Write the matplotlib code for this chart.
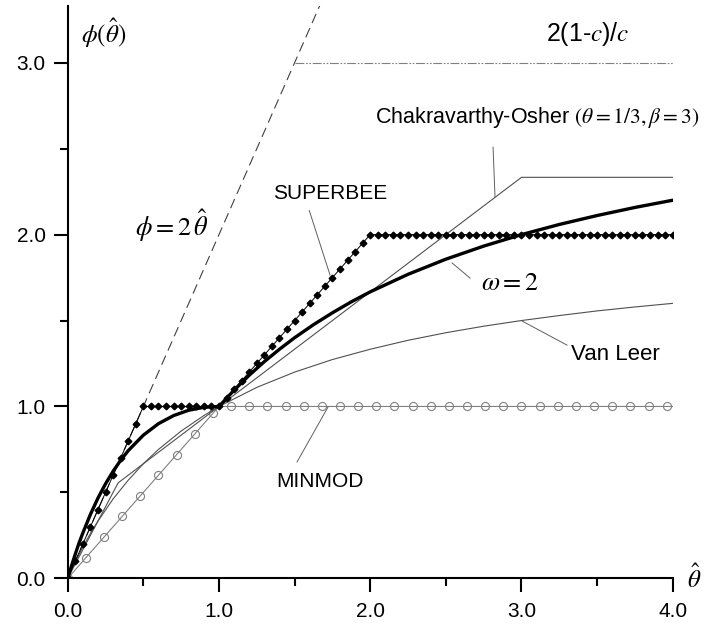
"""
Flux-limiter diagram: phi(theta_hat) for MINMOD, SUPERBEE, Van Leer,
Chakravarthy-Osher and the omega=2 limiter, with the 2*theta bound and
the 2(1-c)/c ceiling.
"""

import numpy as np
import matplotlib.pyplot as plt

plt.rcParams["font.family"] = ["Liberation Sans", "DejaVu Sans"]
plt.rcParams["mathtext.fontset"] = "stix"

# --- data ------------------------------------------------------------------
# upper bound phi = 2*theta (runs off the top of the axes)
bound_x = [0.0, 1.7]
bound_y = [0.0, 3.4]

# 2(1-c)/c ceiling
ceil_x = [1.5, 4.0]
ceil_y = [3.0, 3.0]

# MINMOD: line corners and circle markers every 0.12
minmod_x = [0.0, 1.0, 4.0]
minmod_y = [0.0, 1.0, 1.0]
minmod_mx = np.linspace(0.0, 3.96, 34)
minmod_my = [0.0, 0.12, 0.24, 0.36, 0.48, 0.60, 0.72, 0.84, 0.96,
             1.0, 1.0, 1.0, 1.0, 1.0, 1.0, 1.0, 1.0, 1.0, 1.0, 1.0,
             1.0, 1.0, 1.0, 1.0, 1.0, 1.0, 1.0, 1.0, 1.0, 1.0, 1.0,
             1.0, 1.0, 1.0]

# SUPERBEE: diamonds every 0.05
superbee_x = np.linspace(0.0, 4.0, 81)
superbee_y = [0.0, 0.1, 0.2, 0.3, 0.4, 0.5, 0.6, 0.7, 0.8, 0.9, 1.0,
              1.0, 1.0, 1.0, 1.0, 1.0, 1.0, 1.0, 1.0, 1.0, 1.0,
              1.05, 1.1, 1.15, 1.2, 1.25, 1.3, 1.35, 1.4, 1.45, 1.5,
              1.55, 1.6, 1.65, 1.7, 1.75, 1.8, 1.85, 1.9, 1.95, 2.0,
              2.0, 2.0, 2.0, 2.0, 2.0, 2.0, 2.0, 2.0, 2.0, 2.0,
              2.0, 2.0, 2.0, 2.0, 2.0, 2.0, 2.0, 2.0, 2.0, 2.0,
              2.0, 2.0, 2.0, 2.0, 2.0, 2.0, 2.0, 2.0, 2.0, 2.0,
              2.0, 2.0, 2.0, 2.0, 2.0, 2.0, 2.0, 2.0, 2.0, 2.0]

# Van Leer
vanleer_x = [0.0, 0.05, 0.1, 0.15, 0.2, 0.3, 0.4, 0.5, 0.6, 0.75, 0.9, 1.0,
             1.25, 1.5, 1.75, 2.0, 2.25, 2.5, 2.75, 3.0, 3.25, 3.5, 3.75,
             4.0]
vanleer_y = [0.0, 0.095, 0.182, 0.261, 0.333, 0.462, 0.571, 0.667, 0.75,
             0.857, 0.947, 1.0, 1.111, 1.2, 1.273, 1.333, 1.385, 1.429,
             1.467, 1.5, 1.529, 1.556, 1.579, 1.6]

# Chakravarthy-Osher
co_x = [0.0, 1 / 3, 3.0, 4.0]
co_y = [0.0, 5 / 9, 7 / 3, 7 / 3]

# omega = 2 (thick)
omega_x = [0.0, 0.025, 0.05, 0.075, 0.1, 0.15, 0.2, 0.25, 0.3, 0.35, 0.4,
           0.5, 0.6, 0.7, 0.8, 0.9, 1.0, 1.1, 1.2, 1.3, 1.4, 1.5, 1.625,
           1.75, 1.875, 2.0, 2.25, 2.5, 2.75, 3.0, 3.25, 3.5, 3.75, 4.0]
omega_y = [0.0, 0.072, 0.141, 0.206, 0.264, 0.372, 0.467, 0.55, 0.623,
           0.687, 0.743, 0.833, 0.9, 0.947, 0.978, 0.995, 1.0, 1.095,
           1.182, 1.261, 1.333, 1.4, 1.476, 1.545, 1.609, 1.667, 1.769,
           1.857, 1.933, 2.0, 2.059, 2.111, 2.158, 2.2]

x_ticks = [0.0, 1.0, 2.0, 3.0, 4.0]
y_ticks = [0.0, 1.0, 2.0, 3.0]
x_ticklabels = ["0.0", "1.0", "2.0", "3.0", "4.0"]
y_ticklabels = ["0.0", "1.0", "2.0", "3.0"]

# --- figure ------------------------------------------------------------------
fig = plt.figure(figsize=(7.04, 6.28), dpi=100)
ax = fig.add_axes([0.0962, 0.0791, 0.8594, 0.9113])

ax.plot(bound_x, bound_y, color="#404040", lw=0.8, dashes=(9, 5))
ax.plot(ceil_x, ceil_y, color="#808080", lw=0.8,
        dashes=(8, 1.5, 1.5, 1.5, 1.5, 1.5))

ax.plot(minmod_x, minmod_y, color="#808080", lw=0.8, zorder=2)
ax.plot(minmod_mx, minmod_my, ls="none", marker="o", ms=5.8,
        mfc="none", mec="#808080", mew=0.8, zorder=2)

ax.plot(co_x, co_y, color="#505050", lw=0.8, zorder=3)
ax.plot(vanleer_x, vanleer_y, color="#505050", lw=0.8, zorder=3)

ax.plot(superbee_x, superbee_y, color="black", lw=0.7, marker="D", ms=3.4,
        mfc="black", mec="black", zorder=4)

ax.plot(omega_x, omega_y, color="black", lw=2.4, zorder=5,
        solid_capstyle="round", solid_joinstyle="round")

ax.set_xlim(0, 4)
ax.set_ylim(0, 3.33)
for side in ("top", "right"):
    ax.spines[side].set_visible(False)
for side in ("left", "bottom"):
    ax.spines[side].set_linewidth(1.5)

ax.set_xticks(x_ticks)
ax.set_xticklabels(x_ticklabels)
ax.set_yticks(y_ticks)
ax.set_yticklabels(y_ticklabels)
ax.set_xticks([0.5, 1.5, 2.5, 3.5], minor=True)
ax.set_yticks([0.5, 1.5, 2.5], minor=True)
ax.tick_params(which="major", length=10, width=1.5, labelsize=15)
ax.tick_params(axis="x", which="major", pad=7)
ax.tick_params(axis="y", which="major", pad=6)
ax.tick_params(which="minor", length=6, width=1.5)

# --- labels and leaders --------------------------------------------------------
lead = dict(color="#606060", lw=0.7)

ax.text(0.24, 3.17, r"$\phi(\hat{\theta})$", fontsize=18,
        ha="center", va="center")
ax.text(4.14, 0.0, r"$\hat{\theta}$", fontsize=18, ha="center",
        va="center", clip_on=False)
ax.text(3.44, 3.17, r"2(1-$c$)/$c$", fontsize=18, ha="center", va="center")

ax.text(4.18, 2.68, r"Chakravarthy-Osher $(\theta=1/3,\beta=3)$",
        fontsize=15.5, ha="right", va="center", clip_on=False)
ax.plot([2.812, 2.825], [2.509, 2.219], **lead)

ax.text(1.357, 2.24, "SUPERBEE", fontsize=15, ha="left", va="center")
ax.plot([1.597, 1.734], [2.14, 1.765], **lead)

ax.text(0.69, 2.05, r"$\phi=2\,\hat{\theta}$", fontsize=19,
        ha="center", va="center")

ax.text(2.73, 1.72, r"$\omega=2$", fontsize=19, ha="left", va="center")
ax.plot([2.66, 2.541], [1.747, 1.835], **lead)

ax.text(3.33, 1.30, "Van Leer", fontsize=16, ha="left", va="center")
ax.plot([3.004, 3.301], [1.497, 1.357], **lead)

ax.text(1.38, 0.565, "MINMOD", fontsize=15, ha="left", va="center")
ax.plot([1.721, 1.516], [0.997, 0.677], **lead)

fig.savefig("out.png", dpi=100)
